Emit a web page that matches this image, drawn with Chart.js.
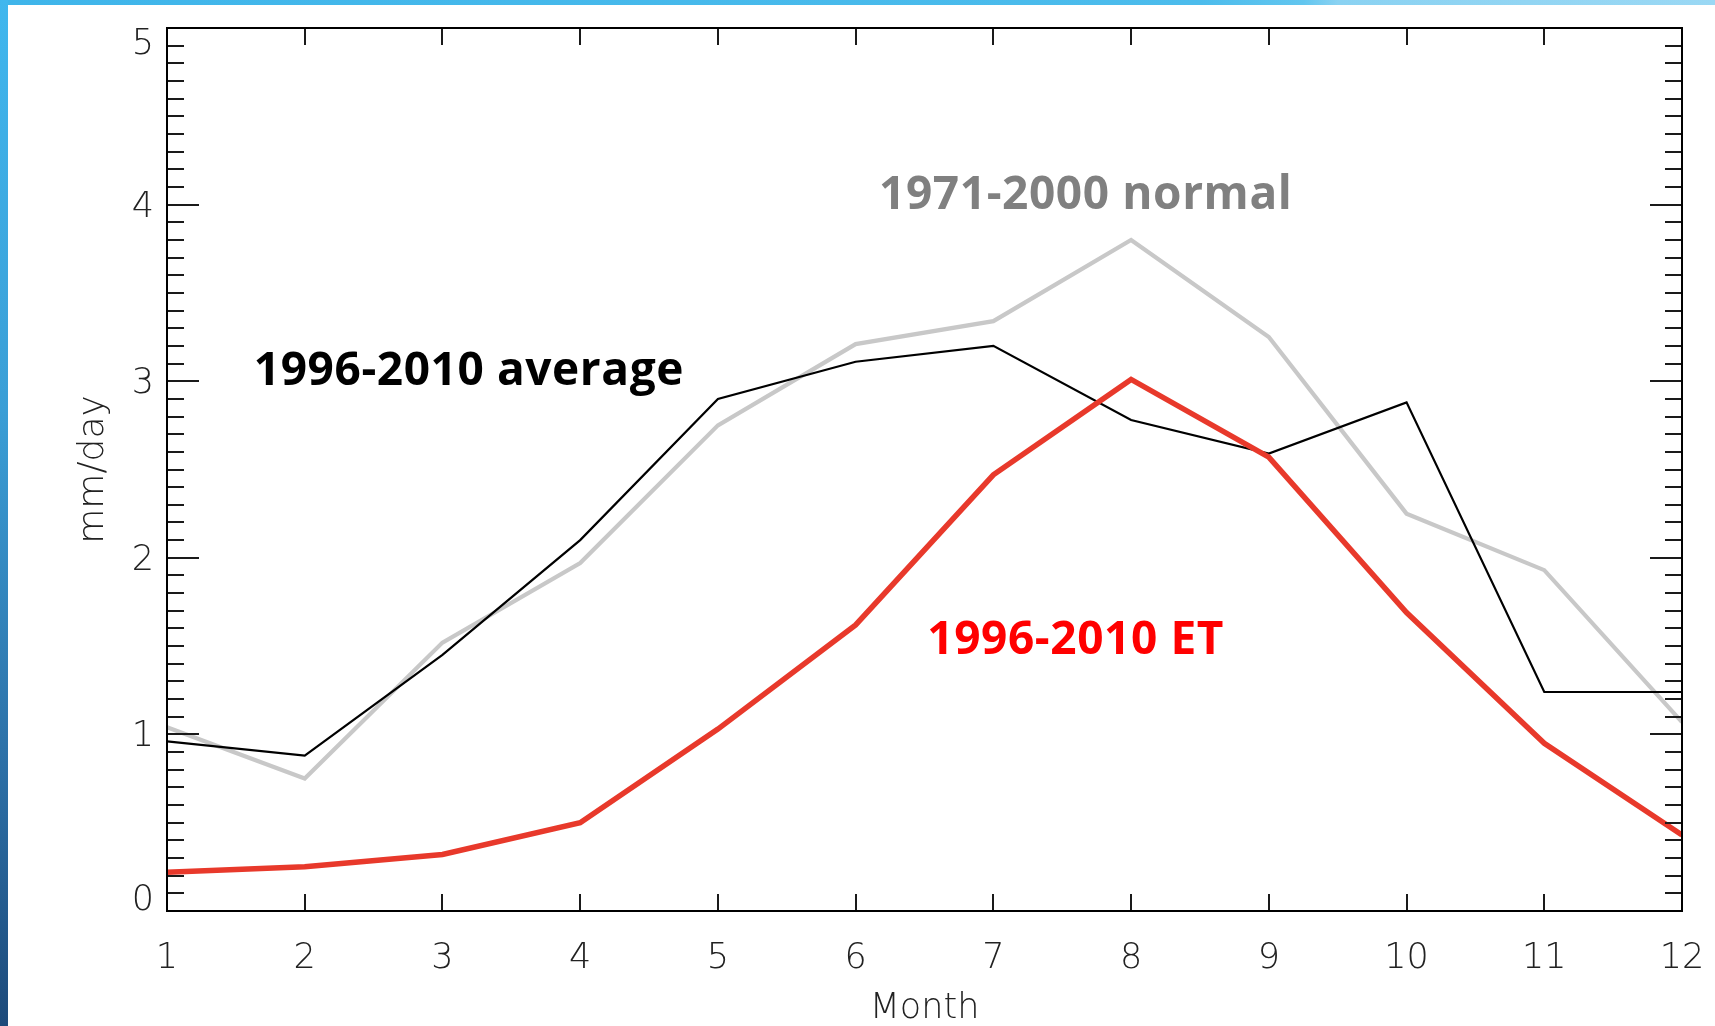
<!DOCTYPE html>
<html>
<head>
<meta charset="utf-8">
<script src="https://cdn.jsdelivr.net/npm/chart.js@4.4.1/dist/chart.umd.min.js"></script>
<style>
    html, body { margin: 0; padding: 0; background: #fff; }
    body { width: 1715px; height: 1026px; position: relative; overflow: hidden; }
    #chartContainer { position: absolute; left: 0; top: 0; }
    .edgeTop { position: absolute; left: 0; top: 0; width: 1715px; height: 5px;
        background: linear-gradient(to right, #3fb5ea 0%, #4cbcec 70%, #62c6ef 76%, #8ad2f2 78%, #9ad8f4 100%); }
    .edgeLeft { position: absolute; left: 0; top: 0; width: 8px; height: 1026px;
        background: linear-gradient(to bottom, #40b7ee 0%, #3a9ed6 40%, #2c6fa6 75%, #1d4a7a 100%); }
</style>
</head>
<body>
<canvas id="chartContainer" width="1715" height="1026"></canvas>
<div class="edgeTop"></div>
<div class="edgeLeft"></div>
<script>
const months = [1, 2, 3, 4, 5, 6, 7, 8, 9, 10, 11, 12];
const yTicks = [0, 1, 2, 3, 4, 5];
// mm/day
const normal7100 = [1.04, 0.75, 1.52, 1.97, 2.75, 3.21, 3.34, 3.80, 3.25, 2.25, 1.93, 1.07];
const average9610 = [0.96, 0.88, 1.45, 2.10, 2.90, 3.11, 3.20, 2.78, 2.59, 2.88, 1.24, 1.24];
const et9610 = [0.22, 0.25, 0.32, 0.50, 1.03, 1.62, 2.47, 3.01, 2.57, 1.69, 0.95, 0.43];

const seriesNames = ["1996-2010 ET", "1996-2010 average", "1971-2000 normal"];

// labels written inside the plot, anchored in data units (month, mm/day)
const notes = [
    { text: "1971-2000 normal", month: 6.17, value: 4.05, color: "#808080" },
    { text: "1996-2010 average", month: 1.63, value: 3.055, color: "#000000" },
    { text: "1996-2010 ET", month: 6.52, value: 1.53, color: "#ff0000" },
];

const toPoints = (vals) => vals.map((v, i) => ({ x: months[i], y: v }));

// IDL-style frame, inward ticks, y labels and in-plot notes
const framePlugin = {
    id: "frame",
    afterDatasetsDraw(chart) {
        const { ctx, chartArea: a, scales } = chart;
        const xs = scales.x;
        const ys = scales.y;
        ctx.save();
        ctx.strokeStyle = "#1a1a1a";
        ctx.lineWidth = 2;
        ctx.beginPath();
        for (let i = 1; i < 50; i++) {
            const py = Math.round(ys.getPixelForValue(i / 10));
            const len = i % 10 === 0 ? 32 : 17;
            ctx.moveTo(a.left, py);
            ctx.lineTo(a.left + len, py);
            ctx.moveTo(a.right, py);
            ctx.lineTo(a.right - len, py);
        }
        months.slice(1, -1).forEach((m) => {
            const px = Math.round(xs.getPixelForValue(m));
            ctx.moveTo(px, a.top);
            ctx.lineTo(px, a.top + 17);
            ctx.moveTo(px, a.bottom);
            ctx.lineTo(px, a.bottom - 17);
        });
        ctx.stroke();
        ctx.strokeStyle = "#000";
        ctx.strokeRect(a.left, a.top, a.right - a.left, a.bottom - a.top);

        ctx.fillStyle = "#222";
        ctx.font = "200 35px 'DejaVu Sans'";
        ctx.textAlign = "center";
        ctx.textBaseline = "middle";
        yTicks.forEach((v) => {
            let py = ys.getPixelForValue(v);
            py = Math.min(Math.max(py, a.top + 14), a.bottom - 13) + 3;
            ctx.fillText(String(v), 143, py);
        });

        ctx.font = "bold 46px 'Open Sans'";
        ctx.letterSpacing = "0.6px";
        ctx.textAlign = "left";
        notes.forEach((n) => {
            ctx.fillStyle = n.color;
            ctx.fillText(n.text, xs.getPixelForValue(n.month), ys.getPixelForValue(n.value));
        });
        ctx.restore();
    },
};

Chart.defaults.font.family = "'DejaVu Sans'";

new Chart(document.getElementById("chartContainer"), {
    type: "line",
    data: {
        datasets: [
            {
                label: seriesNames[0],
                data: toPoints(et9610),
                borderColor: "#e8392b",
                borderWidth: 5.5,
            },
            {
                label: seriesNames[1],
                data: toPoints(average9610),
                borderColor: "#000000",
                borderWidth: 2.2,
            },
            {
                label: seriesNames[2],
                data: toPoints(normal7100),
                borderColor: "#c8c8c8",
                borderWidth: 4.2,
            },
        ],
    },
    options: {
        responsive: false,
        animation: false,
        devicePixelRatio: 1,
        layout: { padding: { top: 28, right: 33, left: 0, bottom: 0 } },
        elements: {
            point: { radius: 0, hoverRadius: 0 },
            line: { tension: 0, borderCapStyle: "butt", borderJoinStyle: "miter" },
        },
        plugins: {
            legend: { display: false },
            tooltip: { enabled: false },
        },
        scales: {
            x: {
                type: "linear",
                min: 1,
                max: 12,
                grid: { display: false, drawTicks: false },
                border: { display: false },
                ticks: {
                    stepSize: 1,
                    padding: 27,
                    color: "#222",
                    font: { size: 35, weight: "200" },
                    maxRotation: 0,
                    autoSkip: false,
                },
                title: {
                    display: true,
                    text: "Month",
                    color: "#222",
                    font: { size: 35, weight: "200" },
                    padding: { top: 0, bottom: -4 },
                },
                afterFit: (scale) => {
                    scale.height = 115;
                    scale.paddingLeft = 0;
                    scale.paddingRight = 0;
                },
            },
            y: {
                min: 0,
                max: 5,
                grid: { display: false, drawTicks: false },
                border: { display: false },
                ticks: { display: false, stepSize: 1 },
                title: {
                    display: true,
                    text: "mm/day",
                    color: "#222",
                    font: { size: 36, weight: "200" },
                    padding: { top: 72, bottom: 0 },
                },
                afterFit: (scale) => {
                    scale.width = 167;
                    scale.paddingTop = 0;
                    scale.paddingBottom = 0;
                },
            },
        },
    },
    plugins: [framePlugin],
});
</script>
</body>
</html>
